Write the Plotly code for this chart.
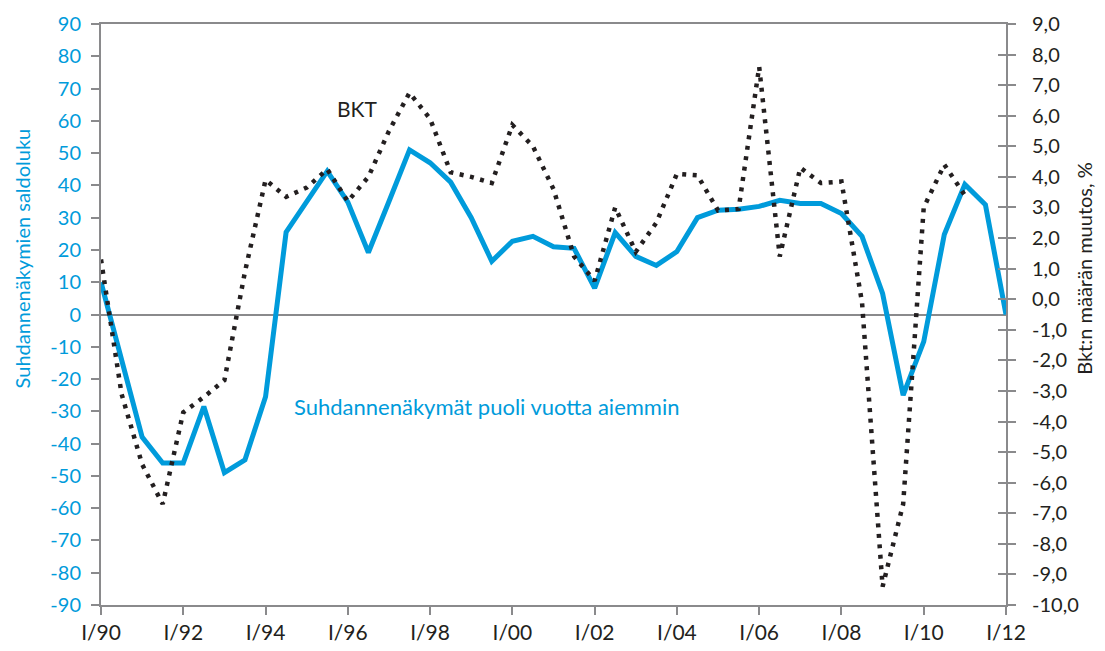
import plotly.graph_objects as go

# half-year observations, I/90 ... I/12
half_years = [1990 + 0.5 * i for i in range(45)]

# Suhdannenäkymät (saldoluku), half a year ahead
suhdanne = [10, -14, -38, -46, -46, -28.5, -49, -45, -25.5, 25.5,
            34.8, 44.4, 34.8, 19.2, 35, 51, 47, 41, 30, 16.5,
            22.7, 24.2, 21, 20.5, 8.2, 25.4, 18, 15.2, 19.5, 30,
            32.3, 32.6, 33.5, 35.4, 34.4, 34.4, 31.3, 24.2, 6.5, -25,
            -8.4, 24.8, 40.3, 34, 0]

# BKT:n määrän muutos, %
bkt = [1.3, -3.1, -5.4, -6.7, -3.7, -3.2, -2.65, 0.9, 3.9, 3.35,
       3.65, 4.25, 3.2, 4.0, 5.5, 6.75, 5.9, 4.15, 4.0, 3.8,
       5.7, 5.0, 3.6, 1.4, 0.6, 3.0, 1.55, 2.5, 4.1, 4.05,
       2.9, 2.95, 7.6, 1.4, 4.3, 3.8, 3.85, -0.1, -9.4, -6.7,
       3.0, 4.4, 3.4]

x_ticks = list(range(1990, 2013, 2))
x_labels = ["I/%02d" % (y % 100) for y in x_ticks]
left_ticks = list(range(-90, 91, 10))
left_labels = [str(v) for v in left_ticks]
right_ticks = list(range(-10, 10))
right_labels = ["%d,0" % v for v in right_ticks]

BLUE = "#009bdb"
DARK = "#231f20"
GREY = "#8a8a8c"
FONT = "Lato"

fig = go.Figure()
fig.add_trace(go.Scatter(x=half_years, y=suhdanne, mode="lines", yaxis="y",
                         line=dict(color=BLUE, width=5), showlegend=False))
fig.add_trace(go.Scatter(x=half_years[:len(bkt)], y=bkt, mode="lines", yaxis="y2",
                         line=dict(color=DARK, width=4.5, dash="4px,6.5px"), showlegend=False))
# empty trace so the inner tick marks of the right axis get drawn
fig.add_trace(go.Scatter(x=[], y=[], yaxis="y3", showlegend=False))

axis_common = dict(showgrid=False, showline=True, linecolor=GREY, linewidth=2,
                   tickcolor=GREY, tickwidth=2, ticklen=8, automargin=False)

# page body has an 8px margin all round, so the figure is 16px smaller than the window
fig.update_layout(
    width=1089, height=635,
    margin=dict(l=93, r=91, t=16, b=38),
    paper_bgcolor="white", plot_bgcolor="white",
    font=dict(family=FONT, size=20, color=DARK),
    xaxis=dict(range=[1990, 2012], tickvals=x_ticks, ticktext=x_labels,
               ticks="outside", mirror=True, zeroline=False,
               tickfont=dict(size=21), **axis_common),
    yaxis=dict(range=[-90, 90], tickvals=left_ticks, ticktext=left_labels,
               ticks="outside", mirror=True, zeroline=True, zerolinecolor=GREY,
               zerolinewidth=2, tickfont=dict(color=BLUE, size=20), ticklabelstandoff=6,
               **axis_common),
    yaxis2=dict(range=[-10, 9], tickvals=right_ticks, ticktext=right_labels,
                overlaying="y", side="right", ticks="outside", zeroline=False,
                ticklabelstandoff=12, tickfont=dict(size=20), **axis_common),
    yaxis3=dict(range=[-10, 9], tickvals=right_ticks, overlaying="y", side="right",
                ticks="inside", showticklabels=False, showgrid=False, zeroline=False,
                showline=False, tickcolor=GREY, tickwidth=2, ticklen=8, automargin=False),
    annotations=[
        dict(text="Suhdannenäkymien saldoluku", xref="paper", yref="paper",
             x=-0.087, y=0.597, xanchor="center", yanchor="middle", textangle=-90,
             showarrow=False, font=dict(color=BLUE, size=20)),
        dict(text="Bkt:n määrän muutos, %", xref="paper", yref="paper",
             x=1.086, y=0.58, xanchor="center", yanchor="middle", textangle=-90,
             showarrow=False, font=dict(color=DARK, size=20)),
        dict(text="BKT", x=1996.22, y=6.25, xref="x", yref="y2", showarrow=False,
             font=dict(color=DARK, size=21)),
        dict(text="Suhdannenäkymät puoli vuotta aiemmin", x=1999.38, y=-28.5,
             xref="x", yref="y", showarrow=False, font=dict(color=BLUE, size=22)),
    ],
)

fig.write_html("out.html")
